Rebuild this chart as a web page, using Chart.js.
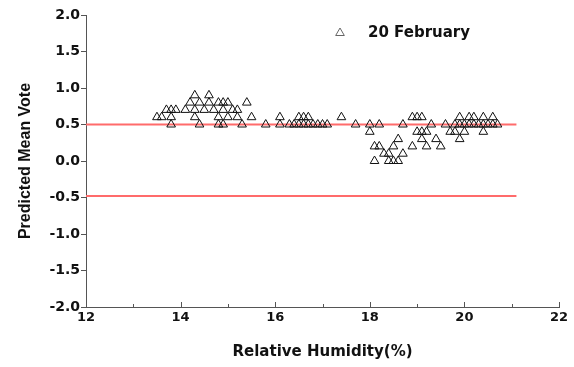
<!DOCTYPE html>
<html>
<head>
<meta charset="utf-8">
<script src="https://cdn.jsdelivr.net/npm/chart.js@4"></script>
<style>
  body { margin: 0; background: #fff; }
  #wrap { width: 574px; height: 367px; }
</style>
</head>
<body>
<div id="wrap"><canvas id="myChart"></canvas></div>
<script>
// relative humidity (%) and predicted mean vote, one pair per survey point
var humidity = [
  14.3, 14.6,
  14.2, 14.4, 14.6, 14.8, 14.9, 15.0, 15.4,
  13.7, 13.8, 13.9, 14.1, 14.3, 14.5, 14.7, 14.9, 15.1, 15.2,
  13.5, 13.6, 13.8, 14.3, 14.8, 15.0, 15.2, 15.5, 16.1, 16.5, 16.6, 16.7, 17.4,
  18.9, 19.0, 19.1, 19.9, 20.1, 20.2, 20.4, 20.6,
  13.8, 14.4, 14.8, 14.9, 15.3, 15.8, 16.1, 16.3, 16.4, 16.5, 16.6, 16.7, 16.8,
  16.9, 17.0, 17.1, 17.7, 18.0, 18.2, 18.7, 19.3, 19.6, 19.8, 19.9, 20.0, 20.1,
  20.2, 20.3, 20.4, 20.5, 20.6, 20.7,
  18.0, 19.0, 19.1, 19.2, 19.7, 19.8, 20.0, 20.4,
  18.6, 19.1, 19.4, 19.9,
  18.1, 18.2, 18.5, 18.9, 19.2, 19.5,
  18.3, 18.4, 18.7,
  18.1, 18.4, 18.5, 18.6
];
var pmv = [
  0.9, 0.9,
  0.8, 0.8, 0.8, 0.8, 0.8, 0.8, 0.8,
  0.7, 0.7, 0.7, 0.7, 0.7, 0.7, 0.7, 0.7, 0.7, 0.7,
  0.6, 0.6, 0.6, 0.6, 0.6, 0.6, 0.6, 0.6, 0.6, 0.6, 0.6, 0.6, 0.6,
  0.6, 0.6, 0.6, 0.6, 0.6, 0.6, 0.6, 0.6,
  0.5, 0.5, 0.5, 0.5, 0.5, 0.5, 0.5, 0.5, 0.5, 0.5, 0.5, 0.5, 0.5,
  0.5, 0.5, 0.5, 0.5, 0.5, 0.5, 0.5, 0.5, 0.5, 0.5, 0.5, 0.5, 0.5,
  0.5, 0.5, 0.5, 0.5, 0.5, 0.5,
  0.4, 0.4, 0.4, 0.4, 0.4, 0.4, 0.4, 0.4,
  0.3, 0.3, 0.3, 0.3,
  0.2, 0.2, 0.2, 0.2, 0.2, 0.2,
  0.1, 0.1, 0.1,
  0.0, 0.0, 0.0, 0.0
];
var seriesName = "20 February";

// comfort limits drawn as red lines
var limitX = [12, 21.1];
var upperLimit = 0.5;
var lowerLimit = -0.48;

var points = [];
for (var i = 0; i < humidity.length; i++) {
  points.push({x: humidity[i], y: pmv[i]});
}

var WIDE = "'DejaVu Sans', Verdana, sans-serif";
var PLAIN = "'Liberation Sans', Arial, sans-serif";
var AXIS = "#555";

// x ticks point inwards in the original, so draw them by hand
var innerTicks = {
  id: "innerTicks",
  afterDraw: function (chart) {
    var ctx = chart.ctx, xs = chart.scales.x, bottom = chart.chartArea.bottom;
    ctx.save();
    ctx.strokeStyle = AXIS;
    ctx.lineWidth = 1;
    for (var v = 12; v <= 22; v++) {
      var px = Math.round(xs.getPixelForValue(v)) + 0.5;
      ctx.beginPath();
      ctx.moveTo(px, bottom);
      ctx.lineTo(px, bottom - (v % 2 === 0 ? 5 : 3));
      ctx.stroke();
    }
    ctx.restore();
  }
};

// small legend inside the plot
var innerLegend = {
  id: "innerLegend",
  afterDraw: function (chart) {
    var ctx = chart.ctx;
    ctx.save();
    ctx.fillStyle = "rgba(0,0,0,0)";
    ctx.strokeStyle = "#666";
    ctx.lineWidth = 1;
    Chart.helpers.drawPoint(ctx, {pointStyle: "triangle", radius: 5, borderWidth: 1}, 340, 33);
    ctx.fillStyle = "#111";
    ctx.font = "bold 15px " + WIDE;
    ctx.textBaseline = "middle";
    ctx.fillText(seriesName, 368, 33);
    ctx.restore();
  }
};

new Chart("myChart", {
  type: "scatter",
  data: {
    datasets: [{
      label: seriesName,
      data: points,
      pointStyle: "triangle",
      pointRadius: 5,
      pointBorderWidth: 1,
      pointBorderColor: "#111",
      pointBackgroundColor: "rgba(0,0,0,0)"
    }, {
      type: "line",
      data: [{x: limitX[0], y: upperLimit}, {x: limitX[1], y: upperLimit}],
      borderColor: "#ff6b6b",
      borderWidth: 2,
      pointRadius: 0
    }, {
      type: "line",
      data: [{x: limitX[0], y: lowerLimit}, {x: limitX[1], y: lowerLimit}],
      borderColor: "#ff6b6b",
      borderWidth: 2,
      pointRadius: 0
    }]
  },
  options: {
    responsive: true,
    maintainAspectRatio: false,
    animation: false,
    layout: {padding: {top: 15, right: 15, left: 0, bottom: 0}},
    plugins: {legend: {display: false}, tooltip: {enabled: false}},
    scales: {
      x: {
        type: "linear",
        min: 12, max: 22,
        ticks: {stepSize: 2, color: "#111", font: {family: WIDE, size: 13, weight: "bold"}, padding: 3},
        grid: {display: true, drawOnChartArea: false, drawTicks: false, tickLength: 4},
        border: {color: AXIS, width: 1},
        title: {display: true, text: "Relative Humidity(%)", color: "#111",
                font: {family: WIDE, size: 15, weight: "bold"}, padding: {top: 7, bottom: 6}},
        afterFit: function (s) { s.height = 60; }
      },
      y: {
        min: -2, max: 2,
        ticks: {
          stepSize: 0.25, color: "#111", padding: 1,
          font: {family: WIDE, size: 14, weight: "bold"},
          callback: function (v) {
            return Math.abs(v * 2 - Math.round(v * 2)) < 1e-6 ? v.toFixed(1) : "";
          }
        },
        grid: {drawOnChartArea: false, tickLength: 5, color: AXIS},
        border: {color: AXIS, width: 1},
        title: {display: true, text: "Predicted Mean Vote", color: "#111",
                font: {family: PLAIN, size: 16, weight: "bold"}, padding: {top: 16, bottom: 0}},
        afterFit: function (s) { s.width = 86; }
      }
    }
  },
  plugins: [innerTicks, innerLegend]
});
</script>
</body>
</html>
